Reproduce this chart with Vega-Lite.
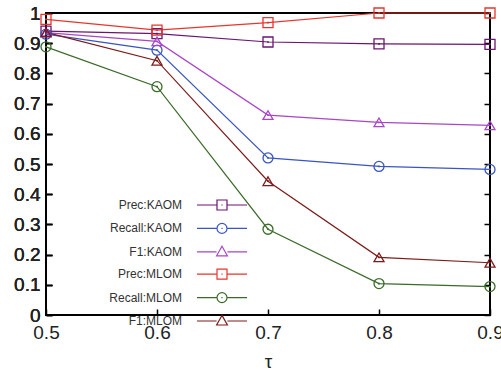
{
  "$schema": "https://vega.github.io/schema/vega-lite/v6.json",
  "width": 444,
  "height": 302,
  "autosize": {"type": "none"},
  "padding": {"left": 46, "top": 13, "right": 11, "bottom": 61},
  "background": "white",
  "config": {
    "view": {"stroke": "black", "strokeWidth": 2},
    "font": "Liberation Sans",
    "axis": {"domain": false, "grid": false, "labelFont": "Liberation Sans", "labelFontSize": 19, "labelColor": "#222", "tickColor": "black", "tickWidth": 1.5, "labelFlush": false}
  },
  "resolve": {"axis": {"y": "independent"}},
  "data": {"values": [
    {"series": "Prec:KAOM", "tau": 0.5, "v": 0.94},
    {"series": "Prec:KAOM", "tau": 0.6, "v": 0.932},
    {"series": "Prec:KAOM", "tau": 0.7, "v": 0.904},
    {"series": "Prec:KAOM", "tau": 0.8, "v": 0.898},
    {"series": "Prec:KAOM", "tau": 0.9, "v": 0.896},
    {"series": "Recall:KAOM", "tau": 0.5, "v": 0.93},
    {"series": "Recall:KAOM", "tau": 0.6, "v": 0.877},
    {"series": "Recall:KAOM", "tau": 0.7, "v": 0.52},
    {"series": "Recall:KAOM", "tau": 0.8, "v": 0.492},
    {"series": "Recall:KAOM", "tau": 0.9, "v": 0.482},
    {"series": "F1:KAOM", "tau": 0.5, "v": 0.935},
    {"series": "F1:KAOM", "tau": 0.6, "v": 0.906},
    {"series": "F1:KAOM", "tau": 0.7, "v": 0.662},
    {"series": "F1:KAOM", "tau": 0.8, "v": 0.638},
    {"series": "F1:KAOM", "tau": 0.9, "v": 0.628},
    {"series": "Prec:MLOM", "tau": 0.5, "v": 0.979},
    {"series": "Prec:MLOM", "tau": 0.6, "v": 0.943},
    {"series": "Prec:MLOM", "tau": 0.7, "v": 0.968},
    {"series": "Prec:MLOM", "tau": 0.8, "v": 1.0},
    {"series": "Prec:MLOM", "tau": 0.9, "v": 1.0},
    {"series": "Recall:MLOM", "tau": 0.5, "v": 0.888},
    {"series": "Recall:MLOM", "tau": 0.6, "v": 0.756},
    {"series": "Recall:MLOM", "tau": 0.7, "v": 0.284},
    {"series": "Recall:MLOM", "tau": 0.8, "v": 0.104},
    {"series": "Recall:MLOM", "tau": 0.9, "v": 0.094},
    {"series": "F1:MLOM", "tau": 0.5, "v": 0.936},
    {"series": "F1:MLOM", "tau": 0.6, "v": 0.842},
    {"series": "F1:MLOM", "tau": 0.7, "v": 0.443},
    {"series": "F1:MLOM", "tau": 0.8, "v": 0.191},
    {"series": "F1:MLOM", "tau": 0.9, "v": 0.173}
  ]},
  "encoding": {
    "x": {"field": "tau", "type": "quantitative", "scale": {"domain": [0.5, 0.9], "nice": false, "zero": false},
      "axis": {"values": [0.5, 0.6, 0.7, 0.8, 0.9], "title": "τ", "titleFont": "Liberation Sans", "titleFontSize": 19, "titleFontWeight": "normal", "titleColor": "#222", "titlePadding": 10, "tickSize": -6, "labelPadding": 14, "labelExpr": "'' + round(datum.value*10)/10"}},
    "y": {"field": "v", "type": "quantitative", "scale": {"domain": [0, 1], "nice": false},
      "axis": {"orient": "left", "values": [0, 0.1, 0.2, 0.3, 0.4, 0.5, 0.6, 0.7, 0.8, 0.9, 1], "title": null, "tickSize": -6, "labelPadding": 12, "labelExpr": "'' + round(datum.value*10)/10"}}
  },
  "layer": [
    {
      "mark": {"type": "line", "strokeWidth": 1.2},
      "encoding": {
        "color": {
          "field": "series", "type": "nominal",
          "scale": {"domain": ["Prec:KAOM", "Recall:KAOM", "F1:KAOM", "Prec:MLOM", "Recall:MLOM", "F1:MLOM"],
                    "range": ["#6b1470", "#3a55c2", "#a846c8", "#e8352b", "#3b6a2a", "#7d1b1b"]},
          "legend": {
            "title": null, "orient": "none", "legendX": 165, "legendY": 181, "padding": 0,
            "labelFont": "Liberation Sans", "labelFontSize": 12, "labelColor": "#333", "labelAlign": "right", "labelOffset": -51,
            "symbolSize": 400, "rowPadding": 4.4, "symbolStrokeWidth": 1.2, "symbolOpacity": 1,
            "encode": {
              "symbols": {
                "update": {
                  "shape": {"signal": "indexof(datum.value,'Prec')==0 ? 'M-2.5,0H-0.5M0.5,0H2.5M-0.5,-0.5H0.5V0.5H-0.5ZM-0.06,0H0.06' : indexof(datum.value,'Recall')==0 ? 'M-2.5,0H-0.5M0.5,0H2.5M0.5,0A0.5,0.5,0,1,1,-0.5,0A0.5,0.5,0,1,1,0.5,0ZM-0.06,0H0.06' : 'M-2.5,0H-0.54M0.54,0H2.5M0,-0.56L0.54,0.4L-0.54,0.4Z'"},
                  "fill": {"value": "transparent"},
                  "fillOpacity": {"value": 0},
                  "stroke": {"scale": "color", "field": "value"},
                  "strokeWidth": {"value": 1.2},
                  "opacity": {"value": 1}
                }
              }
            }
          }
        }
      }
    },
    {"mark": {"type": "point", "filled": false, "size": 100, "strokeWidth": 1.3, "opacity": 1},
      "encoding": {
        "color": {"field": "series", "type": "nominal", "legend": null},
        "shape": {"condition": [
          {"test": "indexof(datum.series,'Prec')==0", "value": "square"},
          {"test": "indexof(datum.series,'Recall')==0", "value": "circle"}
        ], "value": "triangle-up"}}},
    {"mark": {"type": "point", "filled": true, "size": 3, "opacity": 1, "shape": "square"},
      "encoding": {"color": {"field": "series", "type": "nominal", "legend": null}}},
    {"mark": {"type": "point", "opacity": 0, "color": "black"}, "encoding": {"y": {"field": "v", "type": "quantitative", "axis": {"orient": "right", "labels": false, "title": null, "tickSize": -6, "values": [0, 0.1, 0.2, 0.3, 0.4, 0.5, 0.6, 0.7, 0.8, 0.9, 1]}}}}
  ]
}
